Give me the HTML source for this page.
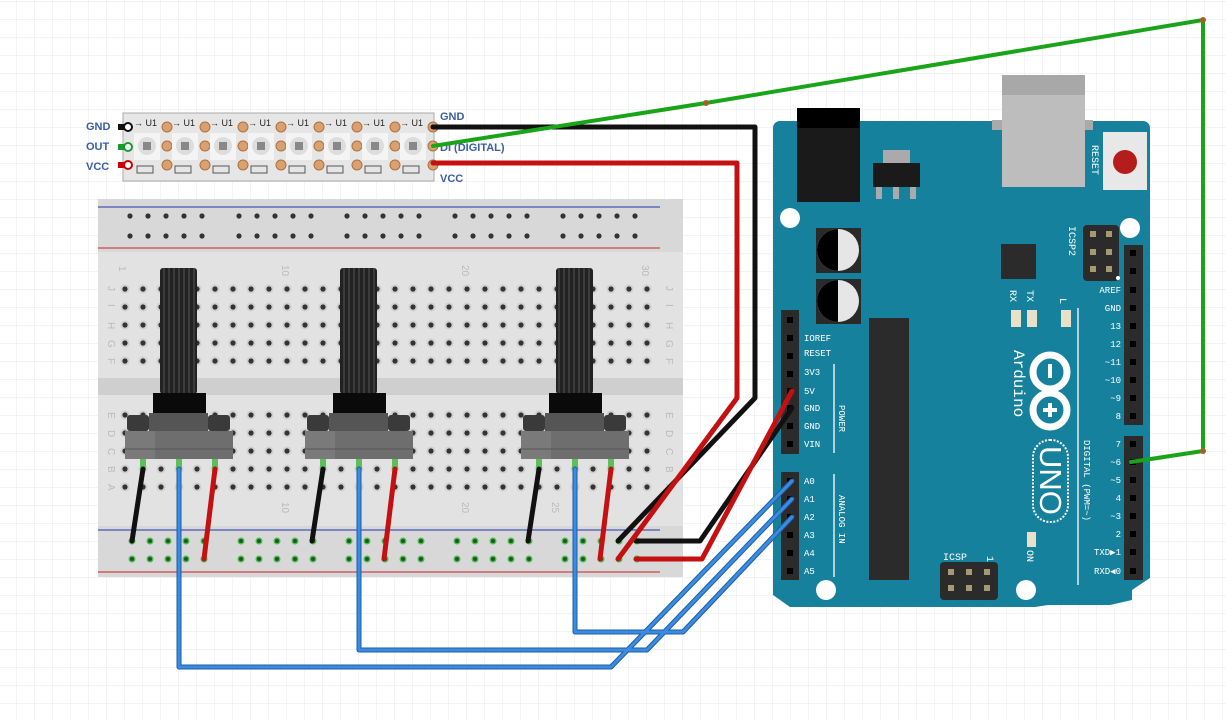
<!DOCTYPE html>
<html><head><meta charset="utf-8"><style>
html,body{margin:0;padding:0;background:#fff;}
svg{display:block}
.t{font-family:"Liberation Mono",monospace;fill:#fff;font-size:9px}
.lb{font-family:"Liberation Sans",sans-serif;font-weight:bold;font-size:11px;fill:#3a5fa0}
.bn{font-family:"Liberation Sans",sans-serif;font-size:10px;fill:#bbb}
</style></head><body>
<svg id="s" width="1226" height="720" viewBox="0 0 1226 720" xmlns="http://www.w3.org/2000/svg">
<defs>
<pattern id="grid" x="-1" y="2" width="18" height="18" patternUnits="userSpaceOnUse">
<path d="M18 0V18M0 18H18" stroke="#ececec" stroke-width="1.2" fill="none"/>
</pattern>
<pattern id="rib" width="5" height="10" patternUnits="userSpaceOnUse">
<rect width="5" height="10" fill="#222"/><rect x="3.5" width="1" height="10" fill="#555"/>
</pattern>
</defs>
<rect width="1226" height="720" fill="url(#grid)"/>

<!-- LED strip -->
<rect x="123" y="113" width="311" height="68" fill="#e6e6e6" stroke="#aaa"/>
<g id="leds"></g>
<text class="lb" x="86" y="130">GND</text>
<text class="lb" x="86" y="150">OUT</text>
<text class="lb" x="86" y="170">VCC</text>
<text class="lb" x="440" y="120">GND</text>
<text class="lb" x="440" y="151">DI (DIGITAL)</text>
<text class="lb" x="440" y="182">VCC</text>
<rect x="118" y="124" width="8" height="6" fill="#111"/><circle cx="128" cy="127" r="4" fill="#fff" stroke="#111" stroke-width="2"/>
<rect x="118" y="144" width="8" height="6" fill="#1a9a2a"/><circle cx="128" cy="147" r="4" fill="#fff" stroke="#1a9a2a" stroke-width="2"/>
<rect x="118" y="162" width="8" height="6" fill="#c00"/><circle cx="128" cy="165" r="4" fill="#fff" stroke="#c00" stroke-width="2"/>

<!-- Breadboard -->
<rect x="98" y="199" width="585" height="378" fill="#d8d8d8"/>
<rect x="98" y="252" width="585" height="274" fill="#e2e2e2"/>
<rect x="98" y="378" width="585" height="17" fill="#cfcfcf"/>
<line x1="98" y1="207" x2="660" y2="207" stroke="#2233aa" stroke-width="1"/>
<line x1="98" y1="248" x2="660" y2="248" stroke="#cc2222" stroke-width="1"/>
<line x1="98" y1="530" x2="660" y2="530" stroke="#2233aa" stroke-width="1"/>
<line x1="98" y1="572" x2="660" y2="572" stroke="#cc2222" stroke-width="1"/>
<g id="holes"></g>
<g class="bn">
<text x="120" y="275" transform="rotate(90 124 270)">1</text>
<text x="282" y="275" transform="rotate(90 287 270)">10</text>
<text x="462" y="275" transform="rotate(90 467 270)">20</text>
<text x="642" y="275" transform="rotate(90 647 270)">30</text>
<text x="282" y="512" transform="rotate(90 287 507)">10</text>
<text x="462" y="512" transform="rotate(90 467 507)">20</text>
<text x="552" y="512" transform="rotate(90 557 507)">25</text>
</g>
<g class="bn" id="rowl"></g>

<!-- Arduino -->
<path d="M780 121H1143a7 7 0 0 1 7 7V578L1132 590V600L1110 605H1048L1035 607H790L773 595V128a7 7 0 0 1 7-7Z" fill="#16819c"/>
<rect x="797" y="108" width="63" height="94" fill="#1a1a1a"/>
<rect x="797" y="108" width="63" height="20" fill="#000"/>
<rect x="883" y="150" width="27" height="14" fill="#aaa"/>
<rect x="873" y="163" width="47" height="24" fill="#1a1a1a"/>
<rect x="876" y="187" width="6" height="12" fill="#aaa"/><rect x="893" y="187" width="6" height="12" fill="#aaa"/><rect x="910" y="187" width="6" height="12" fill="#aaa"/>
<rect x="992" y="120" width="101" height="10" fill="#aaa"/>
<rect x="1002" y="75" width="83" height="112" fill="#bdbdbd"/>
<rect x="1002" y="75" width="83" height="20" fill="#a8a8a8"/>
<rect x="1103" y="132" width="44" height="58" fill="#e8e8e8"/>
<circle cx="1125" cy="162" r="12" fill="#b51c1c"/>
<text class="t" x="1092" y="145" transform="rotate(90 1092 145)" style="font-size:10px">RESET</text>
<circle cx="790" cy="218" r="10" fill="#fff"/>
<circle cx="1130" cy="228" r="10" fill="#fff"/>
<circle cx="826" cy="590" r="10" fill="#fff"/>
<circle cx="1026" cy="590" r="10" fill="#fff"/>
<rect x="816" y="228" width="45" height="45" fill="#2a2a2a"/><circle cx="838" cy="250" r="21" fill="#e6e6e6"/><path d="M838 229a21 21 0 0 0 0 42Z" fill="#000"/>
<rect x="816" y="279" width="45" height="45" fill="#2a2a2a"/><circle cx="838" cy="301" r="21" fill="#e6e6e6"/><path d="M838 280a21 21 0 0 0 0 42Z" fill="#000"/>
<rect x="869" y="318" width="40" height="262" fill="#2b2b2b"/>
<rect x="1001" y="244" width="35" height="35" fill="#2b2b2b"/>
<rect x="1083" y="225" width="36" height="56" rx="4" fill="#2b2b2b"/>
<rect x="940" y="562" width="58" height="38" rx="4" fill="#2b2b2b"/>
<g fill="#a89a70">
<rect x="1090" y="231" width="6" height="6"/><rect x="1106" y="231" width="6" height="6"/>
<rect x="1090" y="249" width="6" height="6"/><rect x="1106" y="249" width="6" height="6"/>
<rect x="1090" y="266" width="6" height="6"/><rect x="1106" y="266" width="6" height="6"/>
<rect x="948" y="569" width="6" height="6"/><rect x="966" y="569" width="6" height="6"/><rect x="984" y="569" width="6" height="6"/>
<rect x="948" y="585" width="6" height="6"/><rect x="966" y="585" width="6" height="6"/><rect x="984" y="585" width="6" height="6"/>
</g>
<text class="t" x="1069" y="226" transform="rotate(90 1069 226)" style="font-size:10px">ICSP2</text>
<text class="t" x="943" y="560" style="font-size:10px">ICSP</text>
<text class="t" x="987" y="556" transform="rotate(90 987 556)" style="font-size:10px">1</text>
<rect x="1011" y="310" width="10" height="17" fill="#e8e0c8"/><rect x="1027" y="310" width="10" height="17" fill="#e8e0c8"/><rect x="1061" y="310" width="10" height="17" fill="#e8e0c8"/>
<rect x="1027" y="532" width="9" height="15" fill="#e8e0c8"/>
<text class="t" x="1010" y="290" transform="rotate(90 1010 290)" style="font-size:10px">RX</text>
<text class="t" x="1027" y="290" transform="rotate(90 1027 290)" style="font-size:10px">TX</text>
<text class="t" x="1060" y="298" transform="rotate(90 1060 298)" style="font-size:10px">L</text>
<text class="t" x="1027" y="550" transform="rotate(90 1027 550)" style="font-size:10px">ON</text>
<line x1="1078" y1="308" x2="1078" y2="585" stroke="#fff" stroke-width="1.3"/>
<line x1="834" y1="364" x2="834" y2="453" stroke="#fff" stroke-width="1.3"/>
<line x1="834" y1="474" x2="834" y2="577" stroke="#fff" stroke-width="1.3"/>
<text class="t" x="1014" y="350" transform="rotate(90 1014 350)" style="font-size:16px">Arduino</text>
<circle cx="1050" cy="372" r="17" fill="none" stroke="#fff" stroke-width="7"/>
<circle cx="1050" cy="410" r="17" fill="none" stroke="#fff" stroke-width="7"/>
<rect x="1048" y="364" width="4" height="14" fill="#fff"/>
<rect x="1048" y="403" width="4" height="14" fill="#fff"/><rect x="1043" y="408" width="14" height="4" fill="#fff"/>
<rect x="1033" y="440" width="35" height="82" rx="17" fill="none" stroke="#fff" stroke-width="2" stroke-dasharray="2 1.5"/>
<text x="1040" y="446" transform="rotate(90 1040 446)" style="font-size:31px;font-family:'Liberation Sans',sans-serif;fill:#fff">UNO</text>
<text class="t" x="1084" y="440" transform="rotate(90 1084 440)">DIGITAL (PWM=~)</text>
<text class="t" x="839" y="405" transform="rotate(90 839 405)">POWER</text>
<text class="t" x="839" y="495" transform="rotate(90 839 495)">ANALOG IN</text>
<!-- headers -->
<rect x="781" y="310" width="18" height="144" fill="#2b2b2b"/>
<rect x="781" y="472" width="18" height="108" fill="#2b2b2b"/>
<rect x="1124" y="245" width="19" height="180" fill="#2b2b2b"/>
<rect x="1124" y="436" width="19" height="144" fill="#2b2b2b"/>
<g id="pins"></g>
<g class="t">
<text x="804" y="341">IOREF</text><text x="804" y="356">RESET</text><text x="804" y="375">3V3</text><text x="804" y="394">5V</text><text x="804" y="411">GND</text><text x="804" y="429">GND</text><text x="804" y="447">VIN</text>
<text x="804" y="484">A0</text><text x="804" y="502">A1</text><text x="804" y="520">A2</text><text x="804" y="538">A3</text><text x="804" y="556">A4</text><text x="804" y="574">A5</text>
</g>
<g class="t" text-anchor="end">
<text x="1121" y="293">AREF</text><text x="1121" y="311">GND</text><text x="1121" y="329">13</text><text x="1121" y="347">12</text><text x="1121" y="365">~11</text><text x="1121" y="383">~10</text><text x="1121" y="401">~9</text><text x="1121" y="419">8</text>
<text x="1121" y="447">7</text><text x="1121" y="465">~6</text><text x="1121" y="483">~5</text><text x="1121" y="501">4</text><text x="1121" y="519">~3</text><text x="1121" y="537">2</text><text x="1121" y="555">TXD▶1</text><text x="1121" y="574">RXD◀0</text>
</g>

<!-- potentiometers -->
<g id="pots"></g>

<!-- wires -->
<g fill="none" stroke-linecap="round" stroke-linejoin="round">
<g stroke="#1a5fa8" stroke-width="5">
<polyline points="179,469 179,667 611,667 792,481"/>
<polyline points="359,469 359,650 647,650 792,499"/>
<polyline points="575,469 575,632 683,632 792,517"/>
</g>
<g stroke="#3d8be0" stroke-width="3">
<polyline points="179,469 179,667 611,667 792,481"/>
<polyline points="359,469 359,650 647,650 792,499"/>
<polyline points="575,469 575,632 683,632 792,517"/>
</g>
<g stroke="#111" stroke-width="5">
<line x1="143" y1="469" x2="132" y2="541"/>
<line x1="323" y1="469" x2="312" y2="541"/>
<line x1="539" y1="469" x2="528" y2="541"/>
<polyline points="618,541 755,398 755,127 433,127"/>
<polyline points="636,541 700,541 792,408"/>
</g>
<g stroke="#c41010" stroke-width="5">
<line x1="215" y1="469" x2="204" y2="559"/>
<line x1="395" y1="469" x2="384" y2="559"/>
<line x1="611" y1="469" x2="600" y2="559"/>
<polyline points="618,559 737,398 737,163 433,163"/>
<polyline points="636,559 702,559 792,391"/>
</g>
<g stroke="#1aa41a" stroke-width="4">
<polyline points="433,146 706,103 1203,20 1203,451 1131,462"/>
</g>
</g>
<g fill="#a0622a"><circle cx="706" cy="103" r="3"/><circle cx="1203" cy="20" r="3"/><circle cx="1203" cy="451" r="3"/></g>
</svg>
<script>
var NS="http://www.w3.org/2000/svg";
function el(p,n,a){var e=document.createElementNS(NS,n);for(var k in a)e.setAttribute(k,a[k]);p.appendChild(e);return e;}
var H=document.getElementById('holes');
for(var c=0;c<30;c++){var x=125+c*18;
 [289,307,325,343,361,415,433,451,469,487].forEach(function(y){el(H,'circle',{cx:x,cy:y,r:4.5,fill:'#cfcfcf'});el(H,'circle',{cx:x,cy:y,r:2.6,fill:'#333'});});}
var gs=[130,239,347,455,563];
gs.forEach(function(g){for(var i=0;i<5;i++){var x=g+i*18;
 el(H,'circle',{cx:x,cy:216,r:2.6,fill:'#333'});el(H,'circle',{cx:x,cy:236,r:2.6,fill:'#333'});
 el(H,'circle',{cx:x+2,cy:541,r:3.5,fill:'#4fb94f'});el(H,'circle',{cx:x+2,cy:541,r:2,fill:'#1a5a1a'});
 el(H,'circle',{cx:x+2,cy:559,r:3.5,fill:'#4fb94f'});el(H,'circle',{cx:x+2,cy:559,r:2,fill:'#1a5a1a'});}});
var R=document.getElementById('rowl');
var rl=[['J',289],['I',307],['H',325],['G',343],['F',361],['E',415],['D',433],['C',451],['B',469],['A',487]];
rl.forEach(function(r){[[108],[666]].forEach(function(xx){var t=el(R,'text',{x:xx[0],y:r[1]+3,transform:'rotate(90 '+(xx[0]+3)+' '+r[1]+')'});t.textContent=r[0];});});
var L=document.getElementById('leds');
for(var i=0;i<8;i++){var x=134+i*38;
 el(L,'rect',{x:x,y:133,width:26,height:27,fill:'#f4f4f4'});
 el(L,'circle',{cx:x+13,cy:146,r:9,fill:'#ddd'});el(L,'rect',{x:x+9,y:142,width:8,height:8,fill:'#888'});
 el(L,'text',{x:x,y:126,'font-size':9,'font-family':'Liberation Sans,sans-serif',fill:'#222'}).textContent='→ U1';
 el(L,'rect',{x:x+3,y:166,width:16,height:7,fill:'none',stroke:'#555'});
 [127,146,165].forEach(function(y){el(L,'circle',{cx:x+33,cy:y,r:5,fill:'#d9a070',stroke:'#b07040'});});}
var P=document.getElementById('pins');
[320,338,356,374,391,408,426,444,481,499,517,535,553,571].forEach(function(y){el(P,'rect',{x:787,y:y-3,width:6,height:6,fill:'#000'});});
[253,271,290,308,326,344,362,380,398,416,444,462,480,498,516,534,552,571].forEach(function(y){el(P,'rect',{x:1130,y:y-3,width:6,height:6,fill:'#000'});});
el(P,'circle',{cx:1118,cy:278,r:2,fill:'#fff'});
var PT=document.getElementById('pots');
[125,305,521].forEach(function(o){
 el(PT,'rect',{x:o+35,y:268,width:37,height:126,fill:'url(#rib)',rx:3});
 el(PT,'rect',{x:o+28,y:393,width:53,height:22,fill:'#0a0a0a'});
 el(PT,'rect',{x:o+2,y:415,width:22,height:16,fill:'#3a3a3a',rx:3});
 el(PT,'rect',{x:o+83,y:415,width:22,height:16,fill:'#3a3a3a',rx:3});
 el(PT,'rect',{x:o+24,y:413,width:59,height:18,fill:'#555'});
 el(PT,'rect',{x:o,y:431,width:108,height:28,fill:'#7a7a7a'});
 el(PT,'rect',{x:o+30,y:431,width:78,height:28,fill:'#6e6e6e'});
 el(PT,'line',{x1:o,y1:449,x2:o+108,y2:449,stroke:'#555'});
 [18,54,90].forEach(function(d){el(PT,'rect',{x:o+d-3,y:459,width:6,height:11,fill:'#5cbf5c'});});
});
</script>
</body></html>
